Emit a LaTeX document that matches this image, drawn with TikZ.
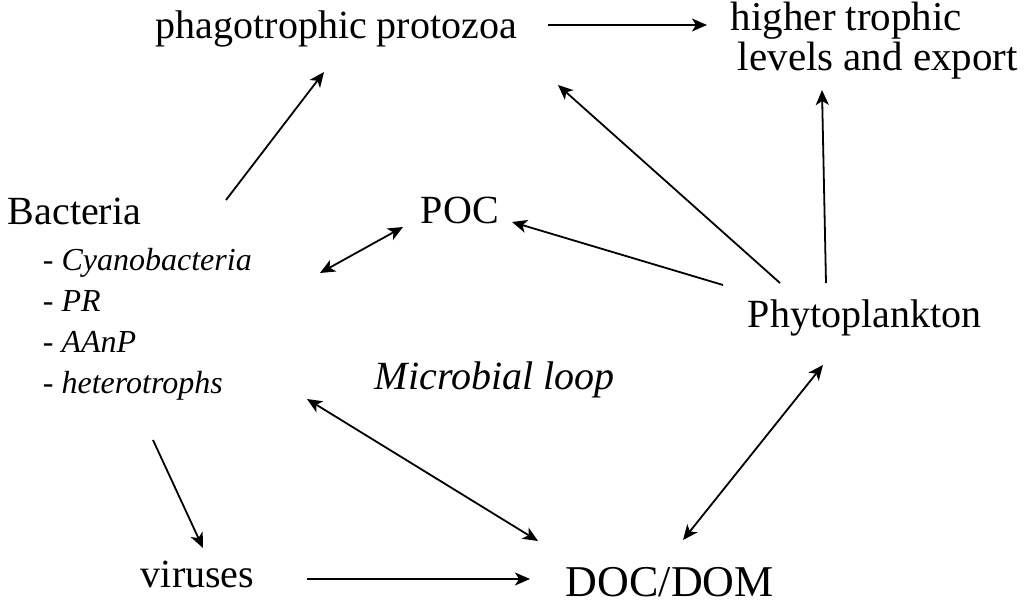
\documentclass[tikz,border=0pt]{standalone}
\usepackage{fontspec}
\setmainfont{Liberation Serif}
\usetikzlibrary{arrows.meta}

\begin{document}
\begin{tikzpicture}[x=0.5pt, y=-0.5pt, inner sep=0pt, line width=0.9pt,
  lbl/.style={anchor=base west, font=\fontsize{20}{24}\selectfont},
  flow/.style={-{Stealth[length=7.5pt, width=6.5pt, inset=2pt]}},
  both/.style={{Stealth[length=7.5pt, width=6.5pt, inset=2pt]}-{Stealth[length=7.5pt, width=6.5pt, inset=2pt]}}]
  \useasboundingbox (0,0) rectangle (1024,605);
  \node[lbl] (proto) at (155,39) {phagotrophic protozoa};
  \node[lbl, align=left, font=\fontsize{20.5}{17}\selectfont] (higher) at (730,70) {higher trophic\\\hspace*{3.5pt}levels and export};
  \node[lbl] (bact) at (7,224) {Bacteria};
  \node[lbl, align=left, font=\fontsize{16}{20.5}\selectfont\itshape] (groups) at (42,393) {- Cyanobacteria\\- PR\\- AAnP\\- heterotrophs};
  \node[lbl] (poc) at (420,223) {POC};
  \node[lbl, font=\fontsize{20}{24}\selectfont\itshape] (loop) at (374,389) {Microbial loop};
  \node[lbl] (phyto) at (747,327) {Phytoplankton};
  \node[lbl] (viruses) at (140,587) {viruses};
  \node[lbl, font=\fontsize{22}{26}\selectfont] (dom) at (565,596) {DOC/DOM};

  \draw[flow] ([shift={(219,-24)}]bact.base west) -- ([shift={(169,33)}]proto.base west);
  \draw[flow] ([shift={(393,-14)}]proto.base west) -- ([shift={(-23,-45)}]higher.base west);
  \draw[flow] ([shift={(79,-44)}]phyto.base west) -- ([shift={(92,20)}]higher.base west);
  \draw[flow] ([shift={(33,-44)}]phyto.base west) -- ([shift={(403,46)}]proto.base west);
  \draw[flow] ([shift={(-24,-42)}]phyto.base west) -- ([shift={(92,-1)}]poc.base west);
  \draw[both] ([shift={(-17,4)}]poc.base west) -- ([shift={(278,-120)}]groups.base west);
  \draw[both] ([shift={(265,6)}]groups.base west) -- ([shift={(-27,-55)}]dom.base west);
  \draw[flow] ([shift={(111,47)}]groups.base west) -- ([shift={(63,-39)}]viruses.base west);
  \draw[flow] ([shift={(167,-8)}]viruses.base west) -- ([shift={(-35,-17)}]dom.base west);
  \draw[both] ([shift={(118,-56)}]dom.base west) -- ([shift={(76,38)}]phyto.base west);
\end{tikzpicture}
\end{document}
